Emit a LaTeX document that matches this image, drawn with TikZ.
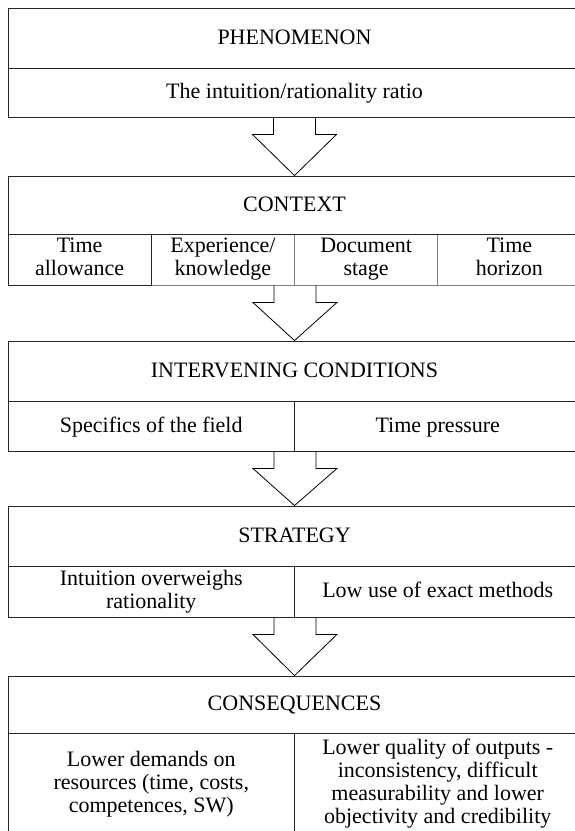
\documentclass[tikz,border=0pt]{standalone}
\usepackage{fontspec}
\setmainfont{Liberation Serif}
\usetikzlibrary{calc}
\newcommand\topstrut{\rule{0pt}{17pt}}
\newcommand\botstrut{\rule[-5pt]{0pt}{5pt}}
\begin{document}
\begin{tikzpicture}[x=1pt,y=-1pt,
  every node/.style={font=\fontsize{22}{23}\selectfont},
  cell/.style={draw=black!85, line width=0.9pt, inner sep=0pt, align=center, anchor=center,
    execute at begin node=\topstrut, execute at end node=\botstrut},
  lightcell/.style={cell, draw=black!50},
  wide/.style={minimum width=573pt},
  half/.style={minimum width=286.5pt},
  quarter/.style={minimum width=143.25pt},
  blk/.style={draw=black, line width=0.8pt}
]
\fill[white] (0,0) rectangle (575,831);
\useasboundingbox (0,0) rectangle (575,831);
\clip (0,0) rectangle (575,831);

% PHENOMENON
\node[cell, wide, minimum height=60pt] (phen) at (294.5,38) {PHENOMENON};
\node[cell, wide, minimum height=49pt] (ratio) at (294.5,92.5) {The intuition/rationality ratio};

% CONTEXT
\node[lightcell, quarter, minimum height=51pt] (ek) at (222.875,259.5) {Experience/\\knowledge};
\node[lightcell, quarter, minimum height=51pt] (ds) at (366.125,259.5) {Document\\stage};
\node[lightcell, quarter, minimum height=51pt] (th) at (509.375,259.5) {Time\\horizon};
\node[cell, quarter, minimum height=51pt] (ta) at (79.625,259.5) {Time\\allowance};
\node[cell, wide, minimum height=58pt] (ctx) at (294.5,205) {CONTEXT};

% INTERVENING CONDITIONS
\node[cell, wide, minimum height=60pt] (ivc) at (294.5,371) {INTERVENING CONDITIONS};
\node[cell, half, minimum height=50pt] (spec) at (151.25,426) {Specifics of the field};
\node[cell, half, minimum height=50pt] (tp) at (437.75,426) {Time pressure};

% STRATEGY
\node[cell, wide, minimum height=60pt] (strat) at (294.5,536) {STRATEGY};
\node[cell, half, minimum height=51pt] (intu) at (151.25,591.5) {Intuition overweighs\\rationality};
\node[cell, half, minimum height=51pt] (low) at (437.75,591.5) {Low use of exact methods};

% CONSEQUENCES
\node[cell, wide, minimum height=57pt] (cons) at (294.5,704.5) {CONSEQUENCES};
\node[cell, half, minimum height=102pt] (lowd) at (151.25,784) {Lower demands on\\resources (time, costs,\\competences, SW)};
\node[cell, half, minimum height=102pt] (lowq) at (437.75,784) {Lower quality of outputs -\\inconsistency, difficult\\measurability and lower\\objectivity and credibility};

% block arrows
\draw[blk] ($(ratio.south)+(-21,0)$) -- ++(0,17) -- ++(-21,0) -- (ctx.north)
  -- ($(ratio.south)+(42,17)$) -- ++(-21,0) -- ++(0,-17);
\draw[blk] ($(ek.south east)+(-21,0)$) -- ++(0,17) -- ++(-21,0) -- (ivc.north)
  -- ($(ek.south east)+(42,17)$) -- ++(-21,0) -- ++(0,-17);
\draw[blk] ($(spec.south east)+(-21,0)$) -- ++(0,17) -- ++(-21,0) -- (strat.north)
  -- ($(spec.south east)+(42,17)$) -- ++(-21,0) -- ++(0,-17);
\draw[blk] ($(intu.south east)+(-21,0)$) -- ++(0,17) -- ++(-21,0) -- (cons.north)
  -- ($(intu.south east)+(42,17)$) -- ++(-21,0) -- ++(0,-17);
\end{tikzpicture}
\end{document}
